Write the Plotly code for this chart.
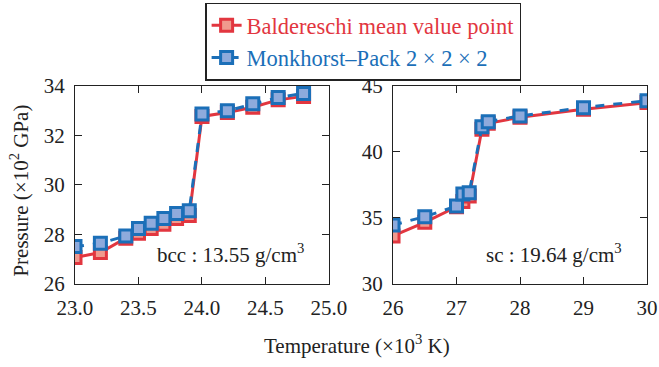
import plotly.graph_objects as go
from plotly.subplots import make_subplots

# bcc phase, 13.55 g/cm^3
bcc_temp = [23.0, 23.2, 23.4, 23.5, 23.6, 23.7, 23.8, 23.9, 24.0, 24.2, 24.4, 24.6, 24.8]
bcc_baldereschi = [27.07, 27.27, 27.85, 28.05, 28.24, 28.41, 28.65, 28.77, 32.77, 32.93, 33.14, 33.44, 33.58]
bcc_monkhorst = [27.51, 27.65, 27.94, 28.24, 28.45, 28.65, 28.85, 28.96, 32.87, 33.00, 33.28, 33.53, 33.70]

# sc phase, 19.64 g/cm^3
sc_temp = [26.0, 26.5, 27.0, 27.1, 27.2, 27.4, 27.5, 28.0, 29.0, 30.0]
sc_baldereschi = [33.64, 34.67, 35.85, 36.24, 36.67, 41.72, 42.17, 42.63, 43.23, 43.74]
sc_monkhorst = [34.47, 35.10, 35.90, 36.82, 36.92, 41.92, 42.30, 42.73, 43.36, 43.89]

bcc_xticks = [23.0, 23.5, 24.0, 24.5, 25.0]
bcc_yticks = [26, 28, 30, 32, 34]
sc_xticks = [26, 27, 28, 29, 30]
sc_yticks = [30, 35, 40, 45]

RED = "#e2363f"
RED_FILL = "#f09a8e"
BLUE = "#1b6fb8"
BLUE_FILL = "#8eaadc"
FONT = "Liberation Serif"
INK = "#222"

fig = make_subplots(rows=1, cols=2)

series = [
    ("Baldereschi mean value point", RED, RED_FILL, "solid", bcc_baldereschi, sc_baldereschi),
    ("Monkhorst\u2013Pack 2 \u00d7 2 \u00d7 2", BLUE, BLUE_FILL, "dash", bcc_monkhorst, sc_monkhorst),
]

for name, color, fill, dash, bcc_vals, sc_vals in series:
    for col, (tx, vals) in enumerate([(bcc_temp, bcc_vals), (sc_temp, sc_vals)], start=1):
        fig.add_trace(
            go.Scatter(
                x=tx, y=vals, mode="lines+markers",
                name=f"<span style='color:{color}'>{name}</span>",
                showlegend=(col == 1),
                line=dict(color=color, width=3, dash=dash),
                marker=dict(symbol="square", size=12, color=fill,
                            line=dict(color=color, width=3)),
            ),
            row=1, col=col,
        )

axis_common = dict(
    showgrid=False, zeroline=False, showline=True, linecolor=INK, linewidth=1.2,
    mirror="ticks", ticks="inside", ticklen=7, tickwidth=1.2, tickcolor=INK,
    tickfont=dict(family=FONT, size=21, color=INK), automargin=False,
)

fig.update_xaxes(**axis_common, ticklabelstandoff=5)
fig.update_yaxes(**axis_common, ticklabelstandoff=5)

fig.update_xaxes(range=[23.0, 25.0], tickvals=bcc_xticks,
                 ticktext=[f"{v:.1f}" for v in bcc_xticks],
                 domain=[0.1138, 0.4992], row=1, col=1)
fig.update_xaxes(range=[26, 30], tickvals=sc_xticks,
                 ticktext=[str(v) for v in sc_xticks],
                 domain=[0.5964, 0.9818], row=1, col=2)
fig.update_yaxes(range=[26, 34], tickvals=bcc_yticks, domain=[0.2262, 0.7657], row=1, col=1)
fig.update_yaxes(range=[30, 45], tickvals=sc_yticks, domain=[0.2262, 0.7657], row=1, col=2)

fig.add_annotation(x=24.82, y=27.25, xref="x", yref="y", xanchor="right", yanchor="middle",
                   text="bcc : 13.55 g/cm<sup>3</sup>", showarrow=False,
                   font=dict(family=FONT, size=21, color=INK))
fig.add_annotation(x=29.64, y=32.3, xref="x2", yref="y2", xanchor="right", yanchor="middle",
                   text="sc : 19.64 g/cm<sup>3</sup>", showarrow=False,
                   font=dict(family=FONT, size=21, color=INK))

fig.add_annotation(x=0.542, y=0.02, xref="paper", yref="paper", xanchor="center", yanchor="bottom",
                   text="Temperature (\u00d710<sup>3</sup> K)", showarrow=False,
                   font=dict(family=FONT, size=21, color=INK))
fig.add_annotation(x=0.03, y=0.48, xref="paper", yref="paper", xanchor="center", yanchor="middle",
                   text="Pressure (\u00d710<sup>2</sup> GPa)", showarrow=False, textangle=-90,
                   font=dict(family=FONT, size=21, color=INK))

fig.update_layout(
    width=659, height=367,
    margin=dict(l=0, r=0, t=0, b=0),
    paper_bgcolor="white", plot_bgcolor="white",
    font=dict(family=FONT, color=INK),
    legend=dict(
        x=0.551, y=0.993, xanchor="center", yanchor="top",
        bordercolor=INK, borderwidth=1.5, bgcolor="white",
        font=dict(family=FONT, size=22.5),
        tracegroupgap=0, itemwidth=30,
    ),
)

fig.write_html("out.html")
